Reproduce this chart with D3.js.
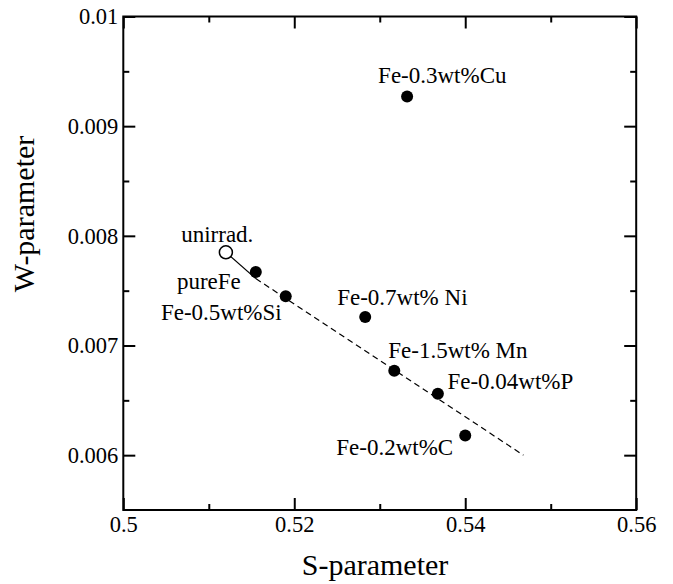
<!DOCTYPE html>
<html>
<head>
<meta charset="utf-8">
<script src="https://cdn.jsdelivr.net/npm/d3@7"></script>
<style>
  html, body { margin: 0; padding: 0; background: #fff; }
  svg { display: block; }
  text { font-family: "Liberation Serif", serif; fill: #000; }
  .tick text { font-size: 22.5px; }
  .tick line { stroke: #000; stroke-width: 2; }
  .lbl { font-size: 23px; }
  .title { font-size: 30px; }
</style>
</head>
<body>
<div id="chart"></div>
<script>
// samples
var names = ["unirrad.", "pureFe", "Fe-0.5wt%Si", "Fe-0.7wt% Ni", "Fe-1.5wt% Mn", "Fe-0.04wt%P", "Fe-0.2wt%C", "Fe-0.3wt%Cu"];
var sParam = [0.5120, 0.5155, 0.5190, 0.5283, 0.5317, 0.5368, 0.5400, 0.5332];
var wParam = [0.00785, 0.00767, 0.00745, 0.00726, 0.00677, 0.00656, 0.00618, 0.00927];
var hollow = [true, false, false, false, false, false, false, false];

// guide line: unirrad -> pureFe solid, then dashed to the end point
var lineS = [0.5120, 0.5155, 0.5468];
var lineW = [0.00785, 0.00761, 0.00600];

var xMajor = [0.50, 0.52, 0.54, 0.56], xMinor = [0.51, 0.53, 0.55];
var yMajor = [0.006, 0.007, 0.008, 0.009, 0.010], yMinor = [0.0065, 0.0075, 0.0085, 0.0095];

// label placement relative to each marker (px) — layout only
var labelPos = [
  { dx: 27.5, dy: -10, anchor: "end" },
  { dx: -15, dy: 16.5, anchor: "end" },
  { dx: -4, dy: 23.5, anchor: "end" },
  { dx: -28, dy: -12, anchor: "start" },
  { dx: -6, dy: -12.5, anchor: "start" },
  { dx: 9.5, dy: -4.5, anchor: "start" },
  { dx: -12, dy: 19.5, anchor: "end" },
  { dx: -29, dy: -13.5, anchor: "start" }
];

var W = 673, H = 584;
var m = { left: 123.3, top: 16.5, right: W - 636.2, bottom: H - 510 };
var iw = W - m.left - m.right, ih = H - m.top - m.bottom;

var svg = d3.select("#chart").append("svg").attr("width", W).attr("height", H);
var g = svg.append("g").attr("transform", "translate(" + m.left + "," + m.top + ")");

var x = d3.scaleLinear().domain([0.5, 0.56]).range([0, iw]);
var y = d3.scaleLinear().domain([0.0055, 0.01]).range([ih, 0]);
var fmt = d3.format("~f");

function axis(gen, dx, dy) {
  var a = g.append("g").attr("transform", "translate(" + dx + "," + dy + ")").call(gen);
  a.attr("font-family", null).attr("font-size", null);   // let the serif CSS win
  a.select(".domain").remove();
  return a;
}

// major ticks with labels (bottom / left), mirror ticks (top / right); all ticks point inward
axis(d3.axisBottom(x).tickValues(xMajor).tickSize(-12).tickPadding(6).tickFormat(fmt), 0, ih);
axis(d3.axisBottom(x).tickValues(xMinor).tickSize(-6).tickFormat(""), 0, ih);
axis(d3.axisTop(x).tickValues(xMajor).tickSize(-12).tickFormat(""), 0, 0);
axis(d3.axisTop(x).tickValues(xMinor).tickSize(-6).tickFormat(""), 0, 0);

axis(d3.axisLeft(y).tickValues(yMajor).tickSize(-12).tickPadding(5).tickFormat(fmt), 0, 0);
axis(d3.axisLeft(y).tickValues(yMinor).tickSize(-6).tickFormat(""), 0, 0);
axis(d3.axisRight(y).tickValues(yMajor).tickSize(-12).tickFormat(""), iw, 0);
axis(d3.axisRight(y).tickValues(yMinor).tickSize(-6).tickFormat(""), iw, 0);

g.append("rect").attr("x", 0).attr("y", 0).attr("width", iw).attr("height", ih)
  .attr("fill", "none").attr("stroke", "#000").attr("stroke-width", 2);

// guide line
g.append("line")
  .attr("x1", x(lineS[0])).attr("y1", y(lineW[0]))
  .attr("x2", x(lineS[1])).attr("y2", y(lineW[1]))
  .attr("stroke", "#000").attr("stroke-width", 1.2);
g.append("line")
  .attr("x1", x(lineS[1])).attr("y1", y(lineW[1]))
  .attr("x2", x(lineS[2])).attr("y2", y(lineW[2]))
  .attr("stroke", "#000").attr("stroke-width", 1.2).attr("stroke-dasharray", "6,4");

// markers
var idx = d3.range(names.length);
g.selectAll("circle.pt").data(idx).enter().append("circle")
  .attr("class", "pt")
  .attr("cx", function (i) { return x(sParam[i]); })
  .attr("cy", function (i) { return y(wParam[i]); })
  .attr("r", function (i) { return hollow[i] ? 6.5 : 6; })
  .attr("fill", function (i) { return hollow[i] ? "#fff" : "#000"; })
  .attr("stroke", "#000").attr("stroke-width", function (i) { return hollow[i] ? 1.5 : 0; });

// labels
g.selectAll("text.lbl").data(idx).enter().append("text")
  .attr("class", "lbl")
  .attr("x", function (i) { return x(sParam[i]) + labelPos[i].dx; })
  .attr("y", function (i) { return y(wParam[i]) + labelPos[i].dy; })
  .attr("text-anchor", function (i) { return labelPos[i].anchor; })
  .text(function (i) { return names[i]; });

// axis titles
svg.append("text").attr("class", "title").attr("x", 375).attr("y", 575)
  .attr("text-anchor", "middle").text("S-parameter");
svg.append("text").attr("class", "title")
  .attr("transform", "translate(34,214) rotate(-90)")
  .attr("text-anchor", "middle").text("W-parameter");
</script>
</body>
</html>
